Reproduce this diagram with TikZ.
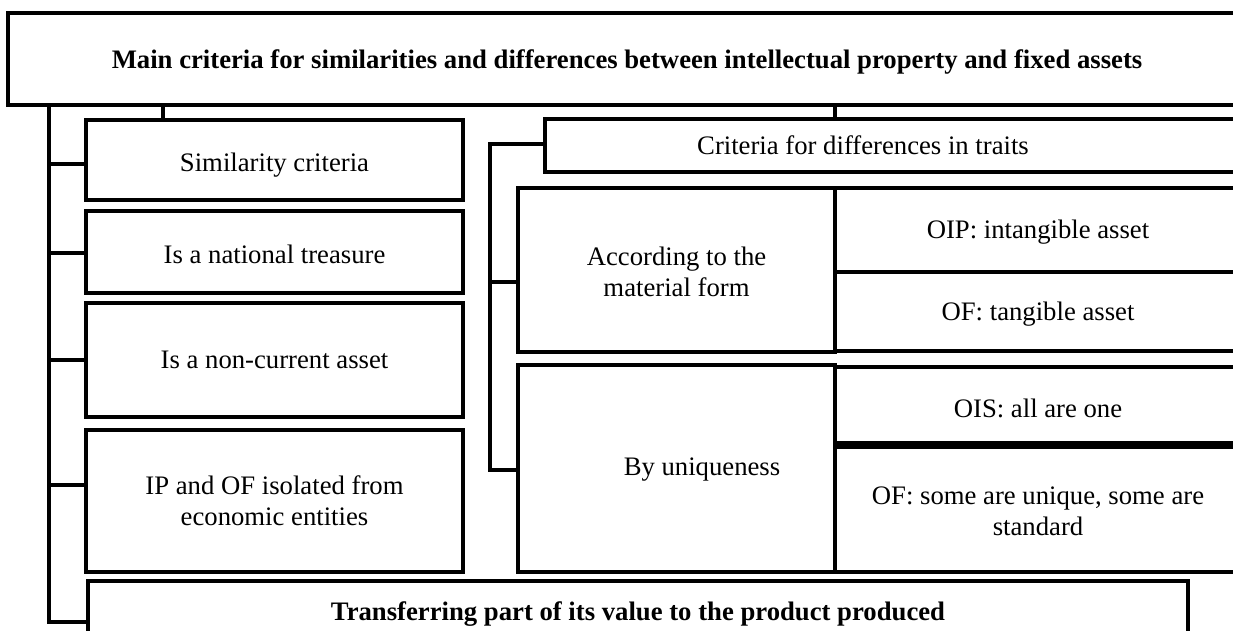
\documentclass[tikz,border=0pt]{standalone}
\usepackage{fontspec}
\setmainfont{Liberation Serif}
\begin{document}
\begin{tikzpicture}[x=1pt,y=-1pt,
  box/.style={draw=black,line width=4.5pt,fill=white,anchor=north west,inner sep=0pt,outer sep=0pt,align=center},
  txt/.style={inner sep=0pt,align=center,font=\fontsize{26.7}{31}\selectfont},
  conn/.style={draw=black,line width=4.5pt,line cap=rect}]
\useasboundingbox (0,0) rectangle (1233,630);
\clip (0,0) rectangle (1233,630);
\fill[white] (0,0) rectangle (1233,630);
\tikzset{bx/.style args={#1x#2}{box,minimum width=#1pt,minimum height=#2pt}}
% boxes
\node[bx=1238x92] (title) at (8,13) {};
\node[txt,font=\fontsize{26.7}{31}\selectfont\bfseries] (titletxt) at (627,62) {Main criteria for similarities and differences between intellectual property and fixed assets};
\node[bx=377x80] (sim) at (86,120) {};
\node[txt] at ([yshift=-5pt]sim.center) {Similarity criteria};
\node[bx=377x82] (nat) at (86,211) {};
\node[txt] at ([yshift=-2pt]nat.center) {Is a national treasure};
\node[bx=377x114] (noncur) at (86,303) {};
\node[txt] at (noncur.center) {Is a non-current asset};
\node[bx=377x142] (ipof) at (86,430) {};
\node[txt] at (ipof.center) {IP and OF isolated from\\economic entities};
\node[bx=1100x62] (trans) at (88,581) {};
\node[txt,font=\fontsize{26.7}{31}\selectfont\bfseries] at ([yshift=-2pt]trans.center) {Transferring part of its value to the product produced};
\node[bx=705x53] (crit) at (545,119) {};
\node[txt] at (863,145) {Criteria for differences in traits};
\node[bx=317x164] (accord) at (518,188) {};
\node[txt] at ([yshift=-2pt]accord.center) {According to the\\material form};
\node[bx=317x207] (uniq) at (518,365) {};
\node[txt] at (702,470) {By uniqueness};
\node[bx=406x84] (oip) at (835,188) {};
\node[txt] at ([yshift=-2pt]oip.center) {OIP: intangible asset};
\node[bx=406x79] (oft) at (835,272) {};
\node[txt] at ([yshift=-3pt]oft.center) {OF: tangible asset};
\node[bx=406x78] (ois) at (835,367) {};
\node[txt] at ([yshift=-2pt]ois.center) {OIS: all are one};
\node[bx=406x127] (ofs) at (835,445) {};
\node[txt] at ([yshift=-3pt]ofs.center) {OF: some are unique, some are\\standard};
\draw[line width=8pt] (ois.south west) -- (ois.south east);
% left bus
\coordinate (lb) at (49,0);
\coordinate (lbend) at (49,622);
\draw[conn] (lb |- title.south) -- (lbend) -- (lbend -| trans.west);
\draw[conn] (lb |- 0,164) -- (sim.west |- 0,164);
\draw[conn] (lb |- 0,253) -- (nat.west |- 0,253);
\draw[conn] (lb |- 0,360) -- (noncur.west |- 0,360);
\draw[conn] (lb |- 0,485) -- (ipof.west |- 0,485);
\coordinate (s1) at (163,0);
\draw[conn] (s1 |- title.south) -- (s1 |- sim.north);
\coordinate (s2) at (835,0);
\draw[conn] (s2 |- title.south) -- (s2 |- crit.north);
% right bus
\coordinate (rb) at (490,0);
\coordinate (rtop) at (490,144);
\coordinate (rbot) at (490,470);
\draw[conn] (rtop -| crit.west) -- (rtop) -- (rbot) -- (rbot -| uniq.west);
\draw[conn] (rb |- 0,282) -- (accord.west |- 0,282);
\end{tikzpicture}
\end{document}
